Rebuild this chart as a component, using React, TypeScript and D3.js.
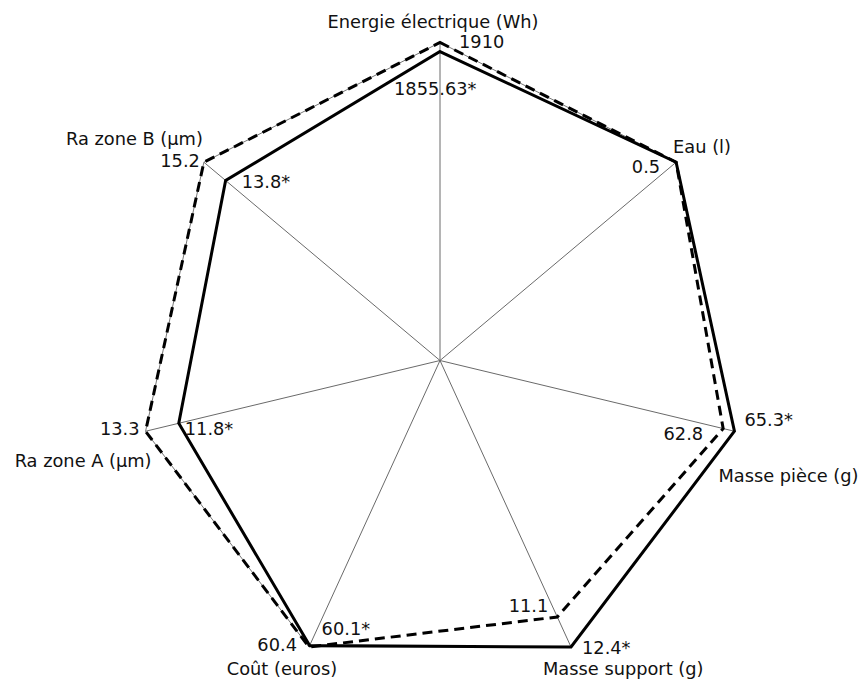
import { useEffect, useRef } from 'react';
import * as d3 from 'd3';

const axes = [
  'Energie électrique (Wh)',
  'Eau (l)',
  'Masse pièce (g)',
  'Masse support (g)',
  'Coût (euros)',
  'Ra zone A (µm)',
  'Ra zone B (µm)',
];
const refValues = [1910, 0.5, 62.8, 11.1, 60.4, 13.3, 15.2];
const optValues = [1855.63, 0.5, 65.3, 12.4, 60.1, 11.8, 13.8];
const refLabels = ['1910', '0.5', '62.8', '11.1', '60.4', '13.3', '15.2'];
const optLabels = ['1855.63*', '', '65.3*', '12.4*', '60.1*', '11.8*', '13.8*'];

// label placement, offsets from the point they describe
const axisLabelPos = [
  { dx: -7, dy: -14.5, anchor: 'middle' },
  { dx: -3, dy: -9, anchor: 'start' },
  { dx: -16, dy: 51, anchor: 'start' },
  { dx: -28, dy: 28, anchor: 'start' },
  { dx: -27, dy: 28, anchor: 'middle' },
  { dx: 6, dy: 36, anchor: 'end' },
  { dx: -1, dy: -17, anchor: 'end' },
];
const refLabelPos = [
  { dx: 19, dy: 5.5, anchor: 'start' },
  { dx: -16, dy: 11, anchor: 'end' },
  { dx: -20, dy: 11.5, anchor: 'end' },
  { dx: -9, dy: -5, anchor: 'end' },
  { dx: -12, dy: 4, anchor: 'end' },
  { dx: -6, dy: 4, anchor: 'end' },
  { dx: -4, dy: 5, anchor: 'end' },
];
const optLabelPos = [
  { dx: -46, dy: 43, anchor: 'start' },
  { dx: 0, dy: 0, anchor: 'start' },
  { dx: 10, dy: -5, anchor: 'start' },
  { dx: 11, dy: 7, anchor: 'start' },
  { dx: 12, dy: -10.5, anchor: 'start' },
  { dx: 6, dy: 12, anchor: 'start' },
  { dx: 16, dy: 7.5, anchor: 'start' },
];

export default function App() {
  const svgRef = useRef<SVGSVGElement>(null);

  useEffect(() => {
    document.body.style.margin = '0';
    if (!svgRef.current) return;
    const svg = d3.select(svgRef.current);
    svg.selectAll('*').remove();

    const width = 861;
    const height = 687;
    const cx = 440;
    const cy = 360.5;
    const rx = 302;
    const ry = 318;
    const n = axes.length;

    const angle = d3.scaleLinear().domain([0, n]).range([0, 2 * Math.PI]);
    const radial = axes.map((_, i) =>
      d3
        .scaleLinear()
        .domain([0, Math.max(refValues[i], optValues[i])])
        .range([0, 1])
    );

    const pt = (i: number, r: number): [number, number] => {
      const a = angle(i);
      return [cx + Math.sin(a) * r * rx, cy - Math.cos(a) * r * ry];
    };

    svg.attr('width', width).attr('height', height);
    svg.append('rect').attr('width', width).attr('height', height).attr('fill', '#fff');

    const g = svg.append('g');

    // spokes
    g.selectAll('.spoke')
      .data(axes)
      .enter()
      .append('line')
      .attr('x1', cx)
      .attr('y1', cy)
      .attr('x2', (_, i) => pt(i, 1)[0])
      .attr('y2', (_, i) => pt(i, 1)[1])
      .attr('stroke', '#6a6a6a')
      .attr('stroke-width', 1);

    // outer frame
    const frame = d3.line<number>().x((i) => pt(i, 1)[0]).y((i) => pt(i, 1)[1]).curve(d3.curveLinearClosed);
    g.append('path')
      .attr('d', frame(d3.range(n)))
      .attr('fill', 'none')
      .attr('stroke', '#777')
      .attr('stroke-width', 1);

    const seriesLine = (vals: number[]) =>
      d3
        .line<number>()
        .x((v, i) => pt(i, radial[i](v))[0])
        .y((v, i) => pt(i, radial[i](v))[1])
        .curve(d3.curveLinearClosed)(vals);

    g.append('path')
      .attr('d', seriesLine(refValues))
      .attr('fill', 'none')
      .attr('stroke', '#000')
      .attr('stroke-width', 3)
      .attr('stroke-dasharray', '10,6')
      .attr('stroke-linejoin', 'miter');

    g.append('path')
      .attr('d', seriesLine(optValues))
      .attr('fill', 'none')
      .attr('stroke', '#000')
      .attr('stroke-width', 3)
      .attr('stroke-linejoin', 'miter');

    const font = 'DejaVu Sans, Verdana, sans-serif';
    const addText = (x: number, y: number, t: string, anchor: string) => {
      if (!t) return;
      g.append('text')
        .attr('x', x)
        .attr('y', y)
        .attr('text-anchor', anchor)
        .attr('font-family', font)
        .attr('font-size', 17.8)
        .attr('fill', '#111')
        .text(t);
    };

    axes.forEach((name, i) => {
      const [ox, oy] = pt(i, 1);
      const p = axisLabelPos[i];
      addText(ox + p.dx, oy + p.dy, name, p.anchor);

      const [rxp, ryp] = pt(i, radial[i](refValues[i]));
      const rp = refLabelPos[i];
      addText(rxp + rp.dx, ryp + rp.dy, refLabels[i], rp.anchor);

      const [oxp, oyp] = pt(i, radial[i](optValues[i]));
      const op = optLabelPos[i];
      addText(oxp + op.dx, oyp + op.dy, optLabels[i], op.anchor);
    });
  }, []);

  return <svg ref={svgRef} style={{ display: 'block' }} />;
}
